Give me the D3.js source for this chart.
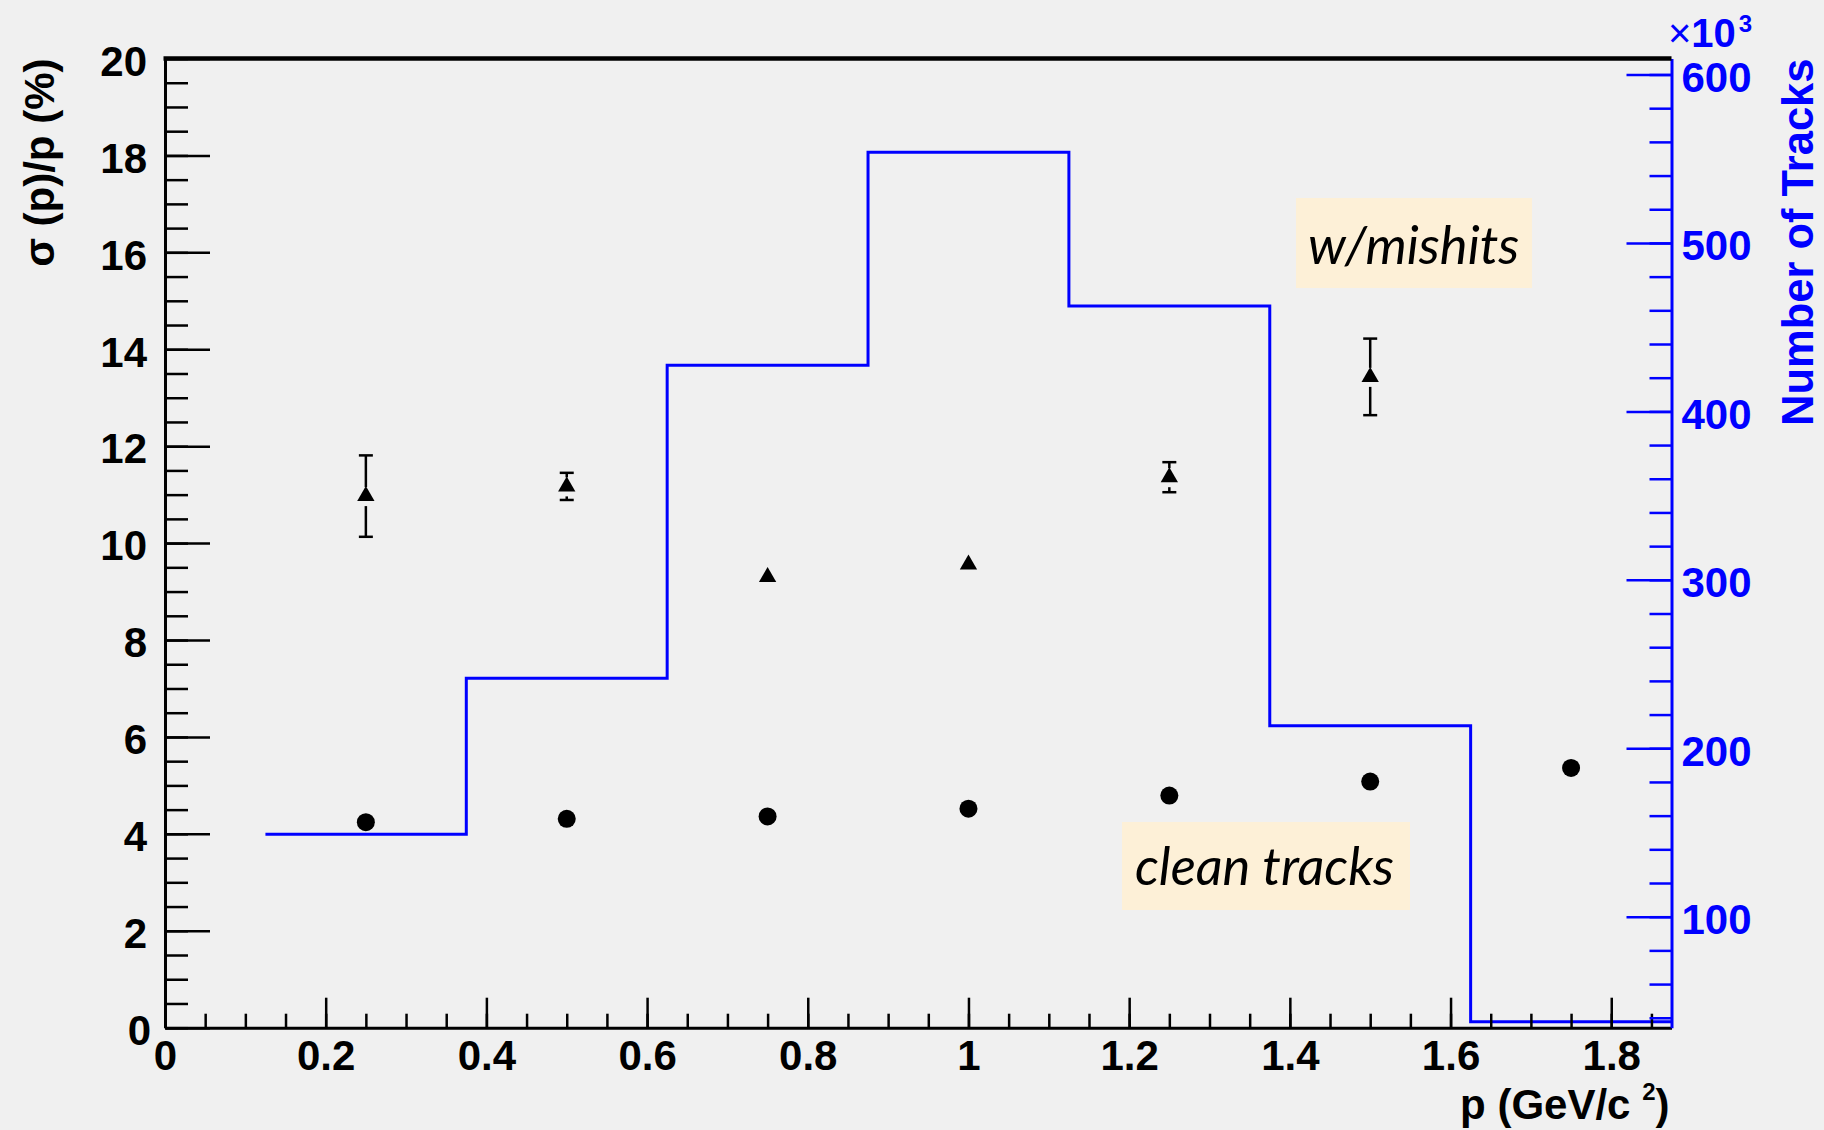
<!DOCTYPE html>
<html>
<head>
    <script src="https://cdnjs.cloudflare.com/ajax/libs/d3/7.8.5/d3.min.js"></script>
    <style>
        body { margin: 0; background: #f0f0f0; }
        text { font-family: "Liberation Sans", Arial, sans-serif; font-weight: bold; }
        .note { font-family: Lato, "Open Sans", sans-serif; font-style: italic; font-weight: normal; }
        .axis .tick line { stroke-width: 2.5px; }
        .axis .domain { stroke-width: 3px; }
    </style>
</head>
<body>
    <div id="chart"></div>
    <script>
        // momentum bins (GeV/c) and resolution points
        const pBins = [0.125, 0.375, 0.625, 0.875, 1.125, 1.375, 1.625, 1.875];
        const nTracks = [149, 241.6, 427.4, 553.8, 462.6, 213.3, 37.7];   // x10^3

        const pClean = [0.25, 0.5, 0.75, 1.0, 1.25, 1.5, 1.75];
        const sigmaClean = [4.24, 4.31, 4.36, 4.52, 4.79, 5.08, 5.36];

        const pMishit = [0.25, 0.5, 0.75, 1.0, 1.25, 1.5];
        const sigmaMishit = [10.97, 11.17, 9.30, 9.56, 11.36, 13.43];
        const errMishit = [0.84, 0.28, 0.1, 0.1, 0.31, 0.79];

        const xTicks = [0, 0.2, 0.4, 0.6, 0.8, 1, 1.2, 1.4, 1.6, 1.8];
        const yTicks = [0, 2, 4, 6, 8, 10, 12, 14, 16, 18, 20];
        const yRTicks = [100, 200, 300, 400, 500, 600];

        const width = 1824, height = 1130;
        const padL = 165, padR = 1671.5, padT = 58.5, padB = 1027.7;

        const svg = d3.select("#chart").append("svg")
            .attr("width", width).attr("height", height);

        const x = d3.scaleLinear().domain([0, 1.875]).range([padL, padR]);
        const y = d3.scaleLinear().domain([0, 20]).range([padB, padT]);
        const yR = d3.scaleLinear().domain([34.1, 609.5]).range([padB, padT]);

        // histogram of number of tracks
        const histPts = nTracks.map((v, i) => [pBins[i], v]);
        histPts.push([pBins[pBins.length - 1], nTracks[nTracks.length - 1]]);
        svg.append("path")
            .datum(histPts)
            .attr("fill", "none")
            .attr("stroke", "#0000ff")
            .attr("stroke-width", 3)
            .attr("d", d3.line().x(d => x(d[0])).y(d => yR(d[1])).curve(d3.curveStepAfter));

        // minor ticks
        svg.append("g").attr("class", "axis")
            .attr("transform", `translate(${padL},0)`)
            .call(d3.axisLeft(y).tickValues(d3.range(0, 20.01, 0.5)).tickSize(-23).tickSizeOuter(0).tickFormat(""))
            .call(g => g.select(".domain").remove());
        svg.append("g").attr("class", "axis")
            .attr("transform", `translate(0,${padB})`)
            .call(d3.axisBottom(x).tickValues(d3.range(0, 1.87, 0.05)).tickSize(-14).tickSizeOuter(0).tickFormat(""))
            .call(g => g.select(".domain").remove());
        svg.append("g").attr("class", "axis")
            .attr("transform", `translate(${padR},0)`)
            .call(d3.axisRight(yR).tickValues(d3.range(40, 601, 20)).tickSize(-22).tickSizeOuter(0).tickFormat(""))
            .call(g => g.select(".domain").remove())
            .call(g => g.selectAll("line").attr("stroke", "#0000ff"));

        // major axes
        svg.append("g").attr("class", "axis")
            .attr("transform", `translate(${padL},0)`)
            .call(d3.axisLeft(y).tickValues(yTicks).tickSize(-45).tickSizeOuter(0).tickPadding(18))
            .call(g => g.selectAll("text").attr("font-size", 42).attr("dy", "0.4em")
                .attr("font-family", "Liberation Sans, Arial, sans-serif").attr("fill", "#000")
                .attr("dx", d => d === 0 ? 4 : 0));
        svg.append("g").attr("class", "axis")
            .attr("transform", `translate(0,${padB})`)
            .call(d3.axisBottom(x).tickValues(xTicks).tickSize(-30).tickSizeOuter(0).tickPadding(12)
                .tickFormat(d3.format("~g")))
            .call(g => g.selectAll("text").attr("font-size", 42)
                .attr("font-family", "Liberation Sans, Arial, sans-serif").attr("fill", "#000"));
        svg.append("g").attr("class", "axis")
            .attr("transform", `translate(${padR},0)`)
            .call(d3.axisRight(yR).tickValues(yRTicks).tickSize(-45).tickSizeOuter(0).tickPadding(10))
            .call(g => g.select(".domain").attr("stroke", "#0000ff"))
            .call(g => g.selectAll("line").attr("stroke", "#0000ff"))
            .call(g => g.selectAll("text").attr("font-size", 42).attr("dy", "0.4em")
                .attr("font-family", "Liberation Sans, Arial, sans-serif").attr("fill", "#0000ff"));

        // top frame
        svg.append("line")
            .attr("x1", padL - 1.5).attr("x2", padR).attr("y1", padT).attr("y2", padT)
            .attr("stroke", "#000").attr("stroke-width", 4.5);

        // clean tracks points
        svg.append("g").selectAll("circle")
            .data(pClean.map((p, i) => ({p, s: sigmaClean[i]})))
            .join("circle")
            .attr("cx", d => x(d.p)).attr("cy", d => y(d.s)).attr("r", 9)
            .attr("fill", "#000");

        // mishit points with error bars
        const mis = pMishit.map((p, i) => ({p, s: sigmaMishit[i], e: errMishit[i]}));
        const eb = svg.append("g").attr("stroke", "#000").attr("stroke-width", 2.5);
        mis.forEach(d => {
            const cx = x(d.p), cy = y(d.s), yt = y(d.s + d.e), yb = y(d.s - d.e);
            if (cy - 9 > yt) {
                eb.append("line").attr("x1", cx).attr("x2", cx).attr("y1", yt).attr("y2", cy - 9);
                eb.append("line").attr("x1", cx - 7).attr("x2", cx + 7).attr("y1", yt).attr("y2", yt);
            }
            if (cy + 10 < yb) {
                eb.append("line").attr("x1", cx).attr("x2", cx).attr("y1", cy + 10).attr("y2", yb);
                eb.append("line").attr("x1", cx - 7).attr("x2", cx + 7).attr("y1", yb).attr("y2", yb);
            }
        });
        svg.append("g").selectAll("path")
            .data(mis)
            .join("path")
            .attr("transform", d => `translate(${x(d.p)},${y(d.s)})`)
            .attr("d", d3.symbol(d3.symbolTriangle, 130))
            .attr("fill", "#000");

        // axis titles
        svg.append("text")
            .attr("transform", `translate(54,${padT}) rotate(-90)`)
            .attr("text-anchor", "end").attr("font-size", 42).attr("fill", "#000")
            .text("σ (p)/p (%)");
        const xt = svg.append("text")
            .attr("x", padR - 2).attr("y", 1119)
            .attr("text-anchor", "end").attr("font-size", 42).attr("fill", "#000");
        xt.append("tspan").text("p (GeV/c ");
        xt.append("tspan").attr("font-size", 24).attr("dy", -19).text("2");
        xt.append("tspan").attr("dy", 19).text(")");

        svg.append("text")
            .attr("transform", `translate(1813,${padT}) rotate(-90)`)
            .attr("text-anchor", "end").attr("font-size", 43.5).attr("fill", "#0000ff")
            .text("Number of Tracks");
        const mult = svg.append("text")
            .attr("x", 1668).attr("y", 47).attr("font-size", 40).attr("fill", "#0000ff");
        mult.append("tspan").attr("font-weight", "normal").attr("font-size", 40).text("×");
        mult.append("tspan").text("10");
        mult.append("tspan").attr("font-size", 24).attr("dy", -15).attr("dx", 3).text("3");

        // annotation boxes
        const notes = [
            {label: "w/mishits", x0: 1296, x1: 1532, y0: 198, y1: 288, tx: 1308, ty: 264},
            {label: "clean tracks", x0: 1122, x1: 1410, y0: 822, y1: 910, tx: 1135, ty: 885}
        ];
        notes.forEach(n => {
            svg.append("rect")
                .attr("x", n.x0).attr("y", n.y0).attr("width", n.x1 - n.x0).attr("height", n.y1 - n.y0)
                .attr("fill", "#fdf0d7");
            svg.append("text")
                .attr("class", "note")
                .attr("x", n.tx).attr("y", n.ty)
                .attr("font-size", 52.5).attr("fill", "#000")
                .text(n.label);
        });
    </script>
</body>
</html>
